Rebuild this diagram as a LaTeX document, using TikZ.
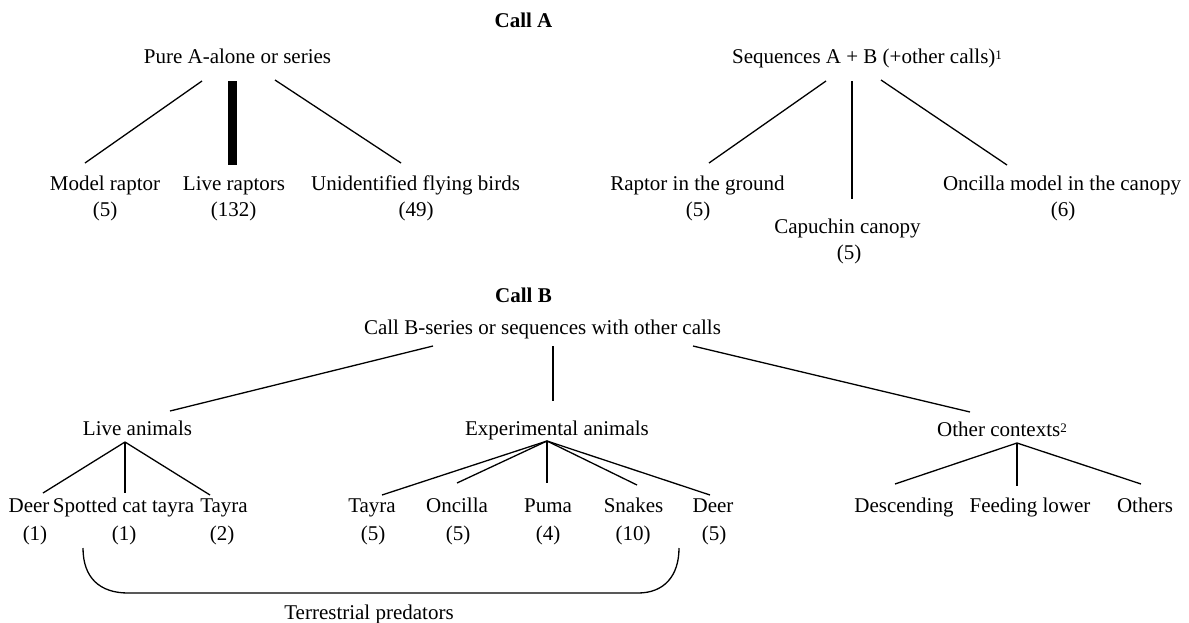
\documentclass[tikz,border=0pt]{standalone}
\usepackage{fontspec}
\setmainfont{Liberation Serif}
\newcommand{\supnum}[1]{\raisebox{4pt}{\fontsize{13}{13}\selectfont #1}}
\begin{document}
\begin{tikzpicture}[x=1pt,y=-1pt,
  t/.style={anchor=base,inner sep=0pt,font=\fontsize{21}{25}\selectfont},
  tb/.style={anchor=base,inner sep=0pt,font=\fontsize{21}{25}\selectfont\bfseries},
  ln/.style={line width=1.3pt},
  bar/.style={line width=8.5pt}]
\useasboundingbox (0,0) rectangle (1189,622);

% ---------- Call A ----------
\node[tb] (callA) at (523.5,27) {Call A};
\node[t] (pure) at (237.5,63) {Pure A-alone or series};
\node[t] (seq) at (867,63) {Sequences A + B (+other calls)\supnum{1}};

\node[t] (mr) at (105,190) {Model raptor};
\node[t] (mrn) at (105,216) {(5)};
\node[t] (lr) at (234,190) {Live raptors};
\node[t] (lrn) at (233.5,216) {(132)};
\node[t] (ufb) at (415.5,190) {Unidentified flying birds};
\node[t] (ufbn) at (416,216) {(49)};

\node[t] (rg) at (697.5,190) {Raptor in the ground};
\node[t] (rgn) at (698,216) {(5)};
\node[t] (cc) at (847.5,233) {Capuchin canopy};
\node[t] (ccn) at (849,259) {(5)};
\node[t] (om) at (1062,190) {Oncilla model in the canopy};
\node[t] (omn) at (1063,216) {(6)};

\coordinate (pure-l) at (202,81);
\coordinate (pure-m) at (232.5,81);
\coordinate (pure-r) at (275,80);
\coordinate (mr-t) at (85,163);
\coordinate (lr-t) at (232.5,165);
\coordinate (ufb-t) at (401,163);
\draw[ln] (pure-l) -- (mr-t);
\draw[bar] (pure-m) -- (lr-t);
\draw[ln] (pure-r) -- (ufb-t);

\coordinate (seq-l) at (826,81);
\coordinate (seq-m) at (852,81);
\coordinate (seq-r) at (881,80);
\coordinate (rg-t) at (709,163);
\coordinate (cc-t) at (852,199);
\coordinate (om-t) at (1007,165);
\draw[ln] (seq-l) -- (rg-t);
\draw[ln] (seq-m) -- (cc-t);
\draw[ln] (seq-r) -- (om-t);

% ---------- Call B ----------
\node[tb] (callB) at (523.5,302) {Call B};
\node[t] (cbs) at (542.5,334) {Call B-series or sequences with other calls};
\node[t] (la) at (137.5,435) {Live animals};
\node[t] (ea) at (557,435) {Experimental animals};
\node[t] (oc) at (1002,436) {Other contexts\supnum{2}};

\coordinate (cbs-l) at (433,346);
\coordinate (cbs-m) at (553,346);
\coordinate (cbs-r) at (693,346);
\coordinate (la-t) at (170,411);
\coordinate (ea-t) at (553,401);
\coordinate (oc-t) at (970,412);
\draw[ln] (cbs-l) -- (la-t);
\draw[ln] (cbs-m) -- (ea-t);
\draw[ln] (cbs-r) -- (oc-t);

% Live animals children
\node[t] (d1) at (29,512) {Deer};
\node[t] (sc) at (123.5,512) {Spotted cat tayra};
\node[t] (ty1) at (224,512) {Tayra};
\node[t] (d1n) at (35,540) {(1)};
\node[t] (scn) at (124,540) {(1)};
\node[t] (ty1n) at (222,540) {(2)};
\coordinate (la-b) at (125,442);
\coordinate (d1-t) at (43,493);
\coordinate (sc-t) at (125,493);
\coordinate (ty1-t) at (210,495);
\draw[ln] (la-b) -- (d1-t);
\draw[ln] (la-b) -- (sc-t);
\draw[ln] (la-b) -- (ty1-t);

% Experimental animals children
\node[t] (ty2) at (372,512) {Tayra};
\node[t] (onc) at (457,512) {Oncilla};
\node[t] (pu) at (548,512) {Puma};
\node[t] (sn) at (633.5,512) {Snakes};
\node[t] (d2) at (713,512) {Deer};
\node[t] (ty2n) at (373,540) {(5)};
\node[t] (oncn) at (458,540) {(5)};
\node[t] (pun) at (548,540) {(4)};
\node[t] (snn) at (633,540) {(10)};
\node[t] (d2n) at (714,540) {(5)};
\coordinate (ea-b) at (547,441);
\coordinate (ty2-t) at (382,495);
\coordinate (onc-t) at (457,483);
\coordinate (pu-t) at (547,483);
\coordinate (sn-t) at (637,485);
\coordinate (d2-t) at (710,495);
\draw[ln] (ea-b) -- (ty2-t);
\draw[ln] (ea-b) -- (onc-t);
\draw[ln] (ea-b) -- (pu-t);
\draw[ln] (ea-b) -- (sn-t);
\draw[ln] (ea-b) -- (d2-t);

% Other contexts children
\node[t] (desc) at (904,512) {Descending};
\node[t] (feed) at (1030,512) {Feeding lower};
\node[t] (oth) at (1145,512) {Others};
\coordinate (oc-b) at (1017,443);
\coordinate (desc-t) at (895,484);
\coordinate (feed-t) at (1017,486);
\coordinate (oth-t) at (1141,484);
\draw[ln] (oc-b) -- (desc-t);
\draw[ln] (oc-b) -- (feed-t);
\draw[ln] (oc-b) -- (oth-t);

% Brace
\coordinate (br-l) at (83,548);
\coordinate (br-r) at (679,548);
\draw[ln] (br-l) .. controls (83,578) and (100,593) .. (128,593) -- (638,593) .. controls (664,593) and (679,576) .. (br-r);
\node[t] (terr) at (369,619) {Terrestrial predators};
\end{tikzpicture}
\end{document}
